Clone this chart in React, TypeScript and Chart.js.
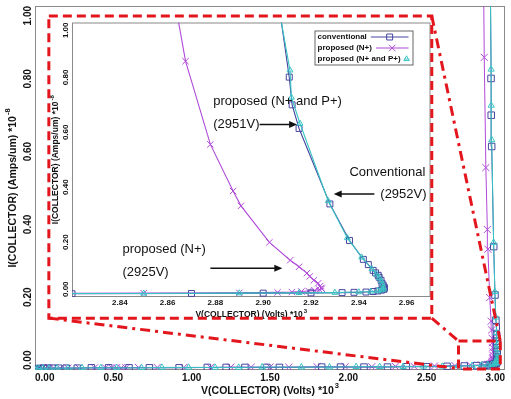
import React, { useEffect, useRef } from 'react';
import { Chart, registerables } from 'chart.js';

Chart.register(...registerables);

const BOLD = "'Liberation Sans', Arial, Helvetica, sans-serif";
const SANS = "'Liberation Sans', Arial, sans-serif";

// V(COLLECTOR) in Volts*10^3, I(COLLECTOR) in Amps/um*10^-8
const convV = [0, 0.004, 0.01, 0.02, 0.035, 0.055, 0.08, 0.11, 0.15, 0.2, 0.27, 0.36, 0.47, 0.6, 0.73, 0.92, 1.1, 1.22, 1.34, 1.48, 1.56, 1.83, 1.95, 2.1, 2.25, 2.37, 2.5, 2.63, 2.74, 2.82, 2.87, 2.9, 2.92, 2.933, 2.938, 2.943, 2.946, 2.948, 2.9495, 2.9505,
  2.9507, 2.9506, 2.9502, 2.9497, 2.9493, 2.9485, 2.9481, 2.947, 2.946, 2.944, 2.9419, 2.9361, 2.9279, 2.915, 2.9121, 2.9109, 2.9068];
const convI = [0, 0.002, 0.003, 0.004, 0.004, 0.005, 0.005, 0.005, 0.005, 0.005, 0.005, 0.006, 0.006, 0.006, 0.006, 0.006, 0.007, 0.007, 0.007, 0.007, 0.007, 0.008, 0.008, 0.008, 0.008, 0.009, 0.009, 0.01, 0.011, 0.012, 0.013, 0.014, 0.015, 0.016, 0.017, 0.018, 0.02, 0.022, 0.025, 0.028,
  0.032, 0.036, 0.043, 0.05, 0.061, 0.072, 0.079, 0.088, 0.097, 0.118, 0.137, 0.206, 0.339, 0.614, 0.7, 0.801, 1.05];

const npV = [0, 0.003, 0.007, 0.012, 0.02, 0.03, 0.045, 0.065, 0.09, 0.12, 0.16, 0.21, 0.28, 0.38, 0.45, 0.49, 0.52, 0.55, 0.58, 0.66, 0.78, 0.95, 1.12, 1.25, 1.38, 1.5, 1.62, 1.8, 1.98, 2.15, 2.3, 2.42, 2.55, 2.68, 2.78, 2.85, 2.89, 2.906, 2.912, 2.916, 2.919, 2.9215, 2.9235, 2.9245,
  2.9243, 2.9238, 2.923, 2.9212, 2.9195, 2.9183, 2.915, 2.9113, 2.9026, 2.8907, 2.8874, 2.8779, 2.8675, 2.8636];
const npI = [0, 0.001, 0.002, 0.003, 0.004, 0.004, 0.004, 0.005, 0.005, 0.005, 0.005, 0.005, 0.006, 0.006, 0.006, 0.006, 0.006, 0.006, 0.006, 0.007, 0.007, 0.007, 0.007, 0.008, 0.008, 0.008, 0.008, 0.009, 0.009, 0.009, 0.01, 0.01, 0.011, 0.012, 0.013, 0.014, 0.015, 0.017, 0.018, 0.02, 0.022, 0.024, 0.027, 0.03,
  0.033, 0.04, 0.05, 0.061, 0.075, 0.087, 0.11, 0.134, 0.199, 0.332, 0.386, 0.556, 0.859, 1.05];

const nppV = [0, 0.01, 0.025, 0.05, 0.09, 0.14, 0.21, 0.3, 0.42, 0.52, 0.68, 0.81, 0.98, 1.15, 1.3, 1.45, 1.7, 1.88, 2.05, 2.2, 2.35, 2.48, 2.6, 2.7, 2.79, 2.85, 2.89, 2.915, 2.93, 2.94, 2.945, 2.948, 2.9495, 2.9502,
  2.9503, 2.9499, 2.9494, 2.9486, 2.9474, 2.9455, 2.9412, 2.9352, 2.9272, 2.9154, 2.9118, 2.9112, 2.9066];
const nppI = [0, 0.003, 0.004, 0.005, 0.005, 0.005, 0.005, 0.006, 0.006, 0.006, 0.006, 0.007, 0.007, 0.007, 0.007, 0.008, 0.008, 0.008, 0.009, 0.009, 0.009, 0.01, 0.01, 0.011, 0.012, 0.013, 0.014, 0.015, 0.016, 0.018, 0.02, 0.022, 0.025, 0.028,
  0.034, 0.046, 0.058, 0.069, 0.083, 0.102, 0.145, 0.215, 0.35, 0.632, 0.727, 0.826, 1.05];

const seriesNames = ['conventional', 'proposed (N+)', 'proposed (N+ and P+)'];
const seriesColors = ['#4646a0', '#b04ad8', '#38c4c4'];
const seriesMarkers = ['rect', 'crossRot', 'triangle'];

const mainXTicks = [0, 0.5, 1, 1.5, 2, 2.5, 3];
const mainYTicks = [0, 0.2, 0.4, 0.6, 0.8, 1.0];
const insetXTicks = [2.84, 2.86, 2.88, 2.9, 2.92, 2.94, 2.96];
const insetYTicks = [0, 0.2, 0.4, 0.6, 0.8, 1.0];

const xTitle = 'V(COLLECTOR) (Volts) *10';
const xTitleSup = '3';
const yTitle = 'I(COLLECTOR) (Amps/um) *10';
const yTitleSup = '-8';

// zoom-region annotation (main chart data units)
const zoomBox = { x0: 0.0884, x1: 2.5326, y0: 0.1425, y1: 0.9726 };
const smallBox = { x0: 2.7032, x1: 2.97, y0: 0, y1: 0.0795 };

// inset text annotations (inset data units)
const insetNotes = [
  { text: 'proposed (N+ and P+)', x: 2.8791, y: 0.711 },
  { text: '(2951V)', x: 2.8791, y: 0.628 },
  { text: 'Conventional', x: 2.9361, y: 0.455 },
  { text: '(2952V)', x: 2.949, y: 0.375 },
  { text: 'proposed (N+)', x: 2.8411, y: 0.173 },
  { text: '(2925V)', x: 2.8411, y: 0.09 },
];
const insetArrows = [
  { x0: 2.8985, x1: 2.9142, y: 0.628 },
  { x0: 2.9465, x1: 2.9295, y: 0.375 },
  { x0: 2.8779, x1: 2.908, y: 0.105 },
];

function pts(v: number[], i: number[]) {
  return v.map((x, k) => ({ x, y: i[k] }));
}

function makeDatasets(sizes: number[], lw: number) {
  const data = [pts(convV, convI), pts(npV, npI), pts(nppV, nppI)];
  const orders = [1, 2, 0];
  return data.map((d, k) => ({
    label: seriesNames[k],
    data: d,
    showLine: true,
    borderColor: seriesColors[k],
    borderWidth: lw,
    pointStyle: seriesMarkers[k],
    pointRadius: sizes[k],
    pointBorderColor: seriesColors[k],
    pointBackgroundColor: 'rgba(0,0,0,0)',
    pointBorderWidth: 1,
    tension: 0,
    order: orders[k],
  }));
}

function drawTitle(ctx: CanvasRenderingContext2D, cx: number, cy: number, main: string, sup: string,
  font: string, supFont: string, rotated: boolean, raise: number) {
  ctx.save();
  ctx.translate(cx, cy);
  if (rotated) ctx.rotate(-Math.PI / 2);
  ctx.font = font;
  const wm = ctx.measureText(main).width;
  ctx.font = supFont;
  const ws = ctx.measureText(sup).width;
  const x0 = -(wm + ws + 1) / 2;
  ctx.textAlign = 'left';
  ctx.textBaseline = 'middle';
  ctx.fillStyle = '#111';
  ctx.font = font;
  ctx.fillText(main, x0, 0);
  ctx.font = supFont;
  ctx.fillText(sup, x0 + wm + 1, -raise);
  ctx.restore();
}

type Deco = {
  xTicks: number[]; yTicks: number[]; tickFont: string; titleFont: string; supFont: string;
  xLabelGap: number; yLabelGap: number; xTitleGap: number; yTitleGap: number; raise: number; frameColor: string;
};

function decoPlugin(id: string, d: Deco) {
  return {
    id,
    beforeDatasetsDraw(chart: any) {
      const { ctx, chartArea: a } = chart;
      ctx.save();
      ctx.strokeStyle = d.frameColor;
      ctx.lineWidth = 1;
      ctx.strokeRect(a.left + 0.5, a.top + 0.5, a.right - a.left - 1, a.bottom - a.top - 1);
      ctx.restore();
    },
    afterDraw(chart: any) {
      const { ctx, chartArea: a, scales } = chart;
      const xs = scales.x;
      const ys = scales.y;
      ctx.save();
      ctx.fillStyle = '#111';
      ctx.font = d.tickFont;
      ctx.textAlign = 'center';
      ctx.textBaseline = 'middle';
      for (const v of d.xTicks) {
        const s = v.toFixed(2);
        const w = ctx.measureText(s).width;
        let px = xs.getPixelForValue(v);
        px = Math.min(Math.max(px, a.left + w / 2), a.right - w / 2);
        ctx.fillText(s, px, a.bottom + d.xLabelGap);
      }
      for (const v of d.yTicks) {
        const s = v.toFixed(2);
        const w = ctx.measureText(s).width;
        let py = ys.getPixelForValue(v);
        py = Math.min(Math.max(py, a.top + w / 2), a.bottom - w / 2);
        ctx.save();
        ctx.translate(a.left - d.yLabelGap, py);
        ctx.rotate(-Math.PI / 2);
        ctx.fillText(s, 0, 0);
        ctx.restore();
      }
      drawTitle(ctx, (a.left + a.right) / 2, a.bottom + d.xTitleGap, xTitle, xTitleSup, d.titleFont, d.supFont, false, d.raise);
      drawTitle(ctx, a.left - d.yTitleGap, (a.top + a.bottom) / 2, yTitle, yTitleSup, d.titleFont, d.supFont, true, d.raise);
      ctx.restore();
    },
  };
}

const zoomPlugin = {
  id: 'zoomLines',
  afterDraw(chart: any) {
    const { ctx, scales } = chart;
    const X = (v: number) => scales.x.getPixelForValue(v);
    const Y = (v: number) => scales.y.getPixelForValue(v);
    ctx.save();
    ctx.strokeStyle = '#e3161d';
    ctx.lineWidth = 3;
    ctx.setLineDash([9, 5]);
    ctx.strokeRect(X(zoomBox.x0), Y(zoomBox.y1), X(zoomBox.x1) - X(zoomBox.x0), Y(zoomBox.y0) - Y(zoomBox.y1));
    ctx.strokeRect(X(smallBox.x0), Y(smallBox.y1), X(smallBox.x1) - X(smallBox.x0), Y(smallBox.y0) - Y(smallBox.y1) - 1);
    ctx.setLineDash([10, 5, 3, 5]);
    const seg = (x0: number, y0: number, x1: number, y1: number) => {
      ctx.beginPath();
      ctx.moveTo(X(x0), Y(y0));
      ctx.lineTo(X(x1), Y(y1));
      ctx.stroke();
    };
    seg(zoomBox.x1, zoomBox.y1, smallBox.x1, smallBox.y1);
    seg(zoomBox.x1, zoomBox.y0, smallBox.x0, smallBox.y1);
    seg(zoomBox.x0, zoomBox.y0, smallBox.x0, smallBox.y0 + 0.004);
    ctx.restore();
  },
};

function drawMarker(ctx: CanvasRenderingContext2D, style: string, x: number, y: number, r: number) {
  ctx.beginPath();
  if (style === 'rect') {
    const s = r * Math.SQRT1_2;
    ctx.rect(x - s, y - s, 2 * s, 2 * s);
  } else if (style === 'crossRot') {
    const s = r * Math.SQRT1_2;
    ctx.moveTo(x - s, y - s); ctx.lineTo(x + s, y + s);
    ctx.moveTo(x + s, y - s); ctx.lineTo(x - s, y + s);
  } else {
    ctx.moveTo(x, y - r);
    ctx.lineTo(x + r * 0.866, y + r * 0.5);
    ctx.lineTo(x - r * 0.866, y + r * 0.5);
    ctx.closePath();
  }
  ctx.stroke();
}

const insetNotesPlugin = {
  id: 'insetNotes',
  afterDraw(chart: any) {
    const { ctx, chartArea: a, scales } = chart;
    const X = (v: number) => scales.x.getPixelForValue(v);
    const Y = (v: number) => scales.y.getPixelForValue(v);
    ctx.save();
    // legend
    const bw = 98, bh = 34;
    const bx = a.right - 18 - bw, by = a.top + 8;
    ctx.fillStyle = '#fff';
    ctx.fillRect(bx, by, bw, bh);
    ctx.strokeStyle = '#666';
    ctx.lineWidth = 1;
    ctx.strokeRect(bx + 0.5, by + 0.5, bw, bh);
    ctx.font = 'bold 8px ' + BOLD;
    ctx.textAlign = 'left';
    ctx.textBaseline = 'middle';
    const sizes = [4.2, 4.5, 3.2];
    seriesNames.forEach((n, k) => {
      const ty = by + 6.5 + k * 11;
      ctx.fillStyle = '#111';
      ctx.fillText(n, bx + 3, ty);
      const w = ctx.measureText(n).width;
      const l0 = bx + 3 + w + 4, l1 = bx + bw - 4;
      ctx.strokeStyle = seriesColors[k];
      ctx.lineWidth = 1;
      ctx.beginPath(); ctx.moveTo(l0, ty); ctx.lineTo(l1, ty); ctx.stroke();
      drawMarker(ctx, seriesMarkers[k], (l0 + l1) / 2, ty, sizes[k]);
    });
    // text notes
    ctx.fillStyle = '#111';
    ctx.font = '13px ' + SANS;
    ctx.textAlign = 'left';
    ctx.textBaseline = 'middle';
    for (const n of insetNotes) ctx.fillText(n.text, X(n.x), Y(n.y));
    // arrows
    ctx.strokeStyle = '#111';
    ctx.lineWidth = 1.5;
    for (const ar of insetArrows) {
      const x0 = X(ar.x0), x1 = X(ar.x1), y = Y(ar.y);
      const dir = x1 > x0 ? 1 : -1;
      ctx.beginPath(); ctx.moveTo(x0, y); ctx.lineTo(x1 - dir * 6, y); ctx.stroke();
      ctx.beginPath(); ctx.moveTo(x1, y); ctx.lineTo(x1 - dir * 8, y - 3.5); ctx.lineTo(x1 - dir * 8, y + 3.5); ctx.closePath(); ctx.fill();
    }
    ctx.restore();
  },
};

export default function App() {
  const mainRef = useRef<HTMLCanvasElement>(null);
  const insetRef = useRef<HTMLCanvasElement>(null);

  useEffect(() => {
    const main = new Chart(mainRef.current as HTMLCanvasElement, {
      type: 'scatter',
      data: { datasets: makeDatasets([4.6, 5, 3.6], 1) as any },
      options: {
        animation: false,
        responsive: false,
        devicePixelRatio: 1,
        events: [],
        layout: { padding: { left: 0, top: 5, right: 1, bottom: 0 } },
        plugins: { legend: { display: false }, tooltip: { enabled: false } },
        scales: {
          x: {
            type: 'linear', min: 0, max: 3,
            grid: { display: false, drawTicks: false }, border: { display: false }, ticks: { display: false },
            afterBuildTicks: (s: any) => { s.ticks = mainXTicks.map((v) => ({ value: v })); },
            afterFit: (s: any) => { s.height = 29; },
          },
          y: {
            type: 'linear', min: 0, max: 1,
            grid: { display: false, drawTicks: false }, border: { display: false }, ticks: { display: false },
            afterBuildTicks: (s: any) => { s.ticks = mainYTicks.map((v) => ({ value: v })); },
            afterFit: (s: any) => { s.width = 35; },
          },
        },
      } as any,
      plugins: [
        decoPlugin('mainDeco', {
          xTicks: mainXTicks, yTicks: mainYTicks,
          tickFont: 'bold 10px ' + BOLD, titleFont: 'bold 10.5px ' + BOLD, supFont: 'bold 7.5px ' + BOLD,
          xLabelGap: 8, yLabelGap: 7, xTitleGap: 21, yTitleGap: 22, raise: 5, frameColor: '#8a8a8a',
        }),
        zoomPlugin,
      ],
    });

    const inset = new Chart(insetRef.current as HTMLCanvasElement, {
      type: 'scatter',
      data: { datasets: makeDatasets([4.2, 4.5, 3.4], 1.1) as any },
      options: {
        animation: false,
        responsive: false,
        devicePixelRatio: 1,
        events: [],
        layout: { padding: { left: 0, top: 3, right: 1, bottom: 0 } },
        plugins: { legend: { display: false }, tooltip: { enabled: false } },
        scales: {
          x: {
            type: 'linear', min: 2.82, max: 2.97,
            grid: { display: false, drawTicks: false }, border: { display: false }, ticks: { display: false },
            afterBuildTicks: (s: any) => { s.ticks = insetXTicks.map((v) => ({ value: v })); },
            afterFit: (s: any) => { s.height = 33; },
          },
          y: {
            type: 'linear', min: 0, max: 1,
            grid: { display: false, drawTicks: false }, border: { display: false }, ticks: { display: false },
            afterBuildTicks: (s: any) => { s.ticks = insetYTicks.map((v) => ({ value: v })); },
            afterFit: (s: any) => { s.width = 22; },
          },
        },
      } as any,
      plugins: [
        decoPlugin('insetDeco', {
          xTicks: insetXTicks, yTicks: insetYTicks,
          tickFont: 'bold 8px ' + BOLD, titleFont: 'bold 8.5px ' + BOLD, supFont: 'bold 6px ' + BOLD,
          xLabelGap: 6, yLabelGap: 6, xTitleGap: 18, yTitleGap: 16, raise: 3.5, frameColor: '#8a8a8a',
        }),
        insetNotesPlugin,
      ],
    });

    return () => {
      main.destroy();
      inset.destroy();
    };
  }, []);

  return (
    <div style={{ position: 'absolute', left: 0, top: 0, width: 511, height: 399, background: '#fff', overflow: 'hidden' }}>
      <canvas ref={insetRef} width={386} height={313}
        style={{ position: 'absolute', left: 50, top: 17, width: 386, height: 313, zIndex: 0 }} />
      <canvas ref={mainRef} width={511} height={399}
        style={{ position: 'absolute', left: 0, top: 0, width: 511, height: 399, zIndex: 1, pointerEvents: 'none' }} />
    </div>
  );
}
